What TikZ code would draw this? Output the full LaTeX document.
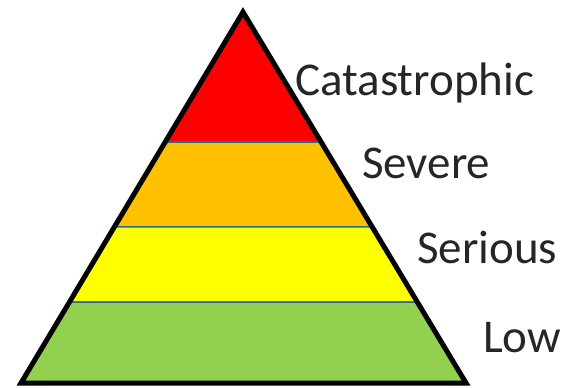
\documentclass[tikz,border=0pt]{standalone}
\usepackage{fontspec}
\setmainfont{Carlito}
\usetikzlibrary{calc}
\definecolor{catred}{RGB}{255,0,0}
\definecolor{sevorange}{RGB}{255,192,0}
\definecolor{seryellow}{RGB}{255,255,0}
\definecolor{lowgreen}{RGB}{146,208,80}
\definecolor{bandline}{RGB}{31,110,150}
\definecolor{labeltext}{RGB}{38,38,38}
\tikzset{
    band/.style={draw=bandline, line width=1.5pt},
    level/.style={anchor=base west, text=labeltext, inner sep=0pt, font=\fontsize{47}{56}\selectfont}
}

\begin{document}
\begin{tikzpicture}[x=1pt,y=-1pt]
        \useasboundingbox (0,0) rectangle (563,388);
        \coordinate (apex) at (243,12);
        \coordinate (bl) at (21,383);
        \coordinate (br) at (466,383);
        % band edges on the two sides
        \foreach \t/\n in {0.3504/a,0.5795/b,0.7817/c} {
            \coordinate (l\n) at ($(apex)!\t!(bl)$);
            \coordinate (r\n) at ($(apex)!\t!(br)$);
        }
        \draw [band, fill=catred] (apex) -- (ra) -- (la) -- cycle;
        \draw [band, fill=sevorange] (la) -- (ra) -- (rb) -- (lb) -- cycle;
        \draw [band, fill=seryellow] (lb) -- (rb) -- (rc) -- (lc) -- cycle;
        \draw [band, fill=lowgreen] (lc) -- (rc) -- (br) -- (bl) -- cycle;
        \draw [line width=5pt, line join=miter] (apex) -- (br) -- (bl) -- cycle;
        % labels
        \node [level] (cat) at (295,95) {Catastrophic};
        \node [level] (sev) at (362,178) {Severe};
        \node [level] (ser) at (417,263) {Serious};
        \node [level] (low) at (483,352) {Low};
    \end{tikzpicture}
\end{document}
